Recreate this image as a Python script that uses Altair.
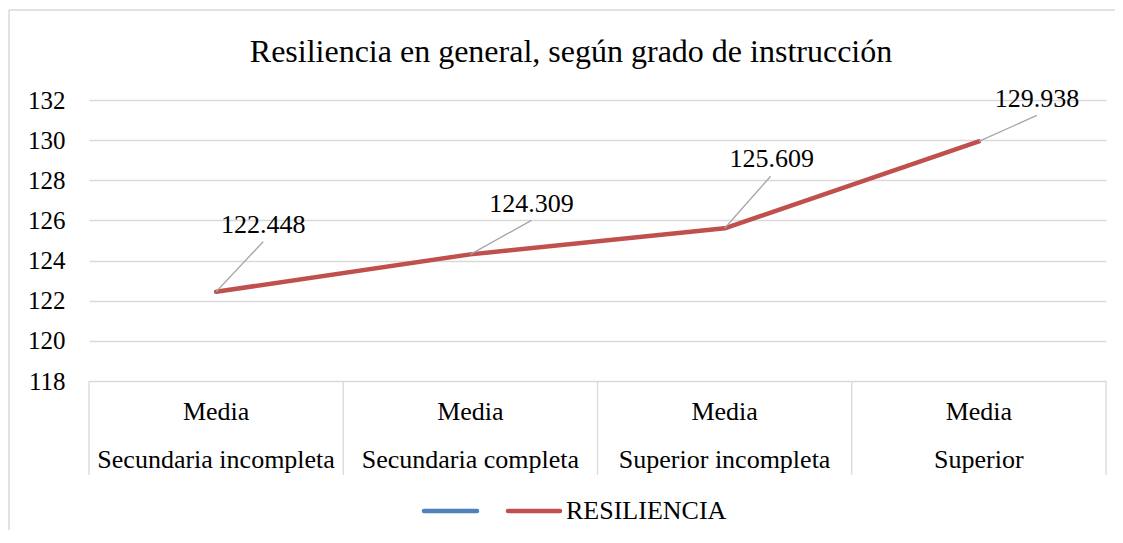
import altair as alt
import pandas as pd

# ---------------- data ----------------
categories = ["Secundaria incompleta", "Secundaria completa", "Superior incompleta", "Superior"]
sub_label = "Media"
values = [122.448, 124.309, 125.609, 129.938]
y_ticks = [118, 120, 122, 124, 126, 128, 130, 132]
series_names = ["", "RESILIENCIA"]
title_text = "Resiliencia en general, según grado de instrucción"

# ---------------- style ----------------
FONT = "Liberation Serif"
RED = "#C0504D"
BLUE = "#4F81BD"
GRID = "#D9D9D9"
LEADER = "#A6A6A6"

# data-label placement, pixel offsets from each point (label anchor, leader end)
label_dx = [47, 61, 47, 58]
label_dy = [-59, -42, -61, -34]
leader_dx = [47, 61, 46, 58]
leader_dy = [-50, -34, -52, -26]

W, H = 1017, 281
Y0, Y1 = 118, 132
n = len(categories)
px_x = W / n
px_y = H / (Y1 - Y0)

df = pd.DataFrame({
    "idx": list(range(n)),
    "cat": categories,
    "sub": [sub_label] * n,
    "value": values,
    "label": [f"{v:.3f}" for v in values],
})
df["lx"] = df["idx"] + pd.Series(label_dx) / px_x
df["ly"] = df["value"] - pd.Series(label_dy) / px_y
df["ex"] = df["idx"] + pd.Series(leader_dx) / px_x
df["ey"] = df["value"] - pd.Series(leader_dy) / px_y

bounds = pd.DataFrame({"b": [i - 0.5 for i in range(n + 1)]})

xs = alt.Scale(domain=[-0.5, n - 0.5], nice=False, zero=False)
ys = alt.Scale(domain=[Y0, Y1], nice=False, zero=False)
yaxis = alt.Axis(
    values=y_ticks, title=None, domain=False, ticks=False, grid=True,
    gridColor=GRID, gridWidth=1.3, labelFont=FONT, labelFontSize=25,
    labelColor="#000000", labelPadding=24)

base = alt.Chart(df)

line = base.mark_line(color=RED, strokeWidth=4.5, strokeCap="round", strokeJoin="round").encode(
    x=alt.X("idx:Q", scale=xs, axis=None),
    y=alt.Y("value:Q", scale=ys, axis=yaxis),
)

leaders = base.mark_rule(color=LEADER, strokeWidth=1.3).encode(
    x=alt.X("idx:Q", scale=xs, axis=None),
    y=alt.Y("value:Q", scale=ys, axis=yaxis),
    x2="ex:Q",
    y2="ey:Q",
)

labels = base.mark_text(font=FONT, fontSize=26, color="#000000", align="center", baseline="alphabetic").encode(
    x=alt.X("lx:Q", scale=xs, axis=None),
    y=alt.Y("ly:Q", scale=ys, axis=yaxis),
    text="label:N",
)

dividers = alt.Chart(bounds).mark_rule(color=GRID, strokeWidth=1.3).encode(
    x=alt.X("b:Q", scale=xs, axis=None),
    y=alt.value(H),
    y2=alt.value(375),
)

cat_sub = base.mark_text(font=FONT, fontSize=26, color="#000000", align="center", baseline="alphabetic").encode(
    x=alt.X("idx:Q", scale=xs, axis=None),
    y=alt.value(320),
    text="sub:N",
)
cat_main = base.mark_text(font=FONT, fontSize=26, color="#000000", align="center", baseline="alphabetic").encode(
    x=alt.X("idx:Q", scale=xs, axis=None),
    y=alt.value(368),
    text="cat:N",
)

title = alt.Chart(pd.DataFrame({"t": [title_text]})).mark_text(
    font=FONT, fontSize=32, color="#000000", align="center", baseline="alphabetic"
).encode(x=alt.value(482), y=alt.value(-38), text="t:N")

# legend (manual, Excel style)
leg = pd.DataFrame({"name": series_names, "color": [BLUE, RED]})
leg_blue = alt.Chart(leg.iloc[[0]]).mark_rule(strokeWidth=4.5, strokeCap="round", color=BLUE).encode(
    x=alt.value(335), x2=alt.value(388), y=alt.value(411))
leg_red = alt.Chart(leg.iloc[[1]]).mark_rule(strokeWidth=4.5, strokeCap="round", color=RED).encode(
    x=alt.value(419), x2=alt.value(471), y=alt.value(411))
leg_text = alt.Chart(leg.iloc[[1]]).mark_text(
    font=FONT, fontSize=26, color="#000000", align="left", baseline="alphabetic"
).encode(x=alt.value(477), y=alt.value(419), text="name:N")

# outer chart-area border (left and top edges visible)
border_left = alt.Chart(leg.iloc[[0]]).mark_rule(color=GRID, strokeWidth=1.5).encode(
    x=alt.value(-80), y=alt.value(-90), y2=alt.value(430))
border_top = alt.Chart(leg.iloc[[0]]).mark_rule(color=GRID, strokeWidth=1.5).encode(
    x=alt.value(-80), x2=alt.value(W + 20), y=alt.value(-90))

chart = alt.layer(
    line, dividers, leaders, labels, cat_sub, cat_main, title,
    leg_blue, leg_red, leg_text, border_left, border_top,
).resolve_scale(x="shared", y="shared").properties(
    width=W, height=H,
    autosize=alt.AutoSizeParams(type="none"),
    padding={"left": 81, "top": 92, "right": 9, "bottom": 154},
    background="#FFFFFF",
).configure_view(stroke=None)

chart.save("out.html", embed_options={"renderer": "svg", "actions": False})
